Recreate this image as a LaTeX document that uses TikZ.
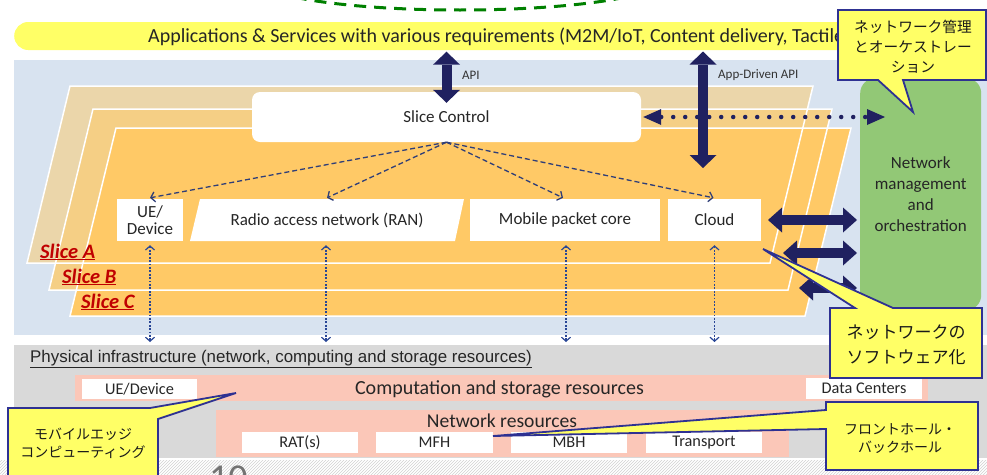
\documentclass[tikz,border=0pt]{standalone}
\usepackage{fontspec}
\setmainfont{Carlito}
\newfontfamily\arialfont{Liberation Sans}
\newfontfamily\jpfont{Noto Sans CJK JP}
\usetikzlibrary{arrows.meta,calc,patterns}

\definecolor{appyellow}{RGB}{255,255,102}
\definecolor{panelblue}{RGB}{216,227,240}
\definecolor{sliceA}{RGB}{235,214,170}
\definecolor{sliceB}{RGB}{245,207,133}
\definecolor{sliceC}{RGB}{255,201,102}
\definecolor{navy}{RGB}{32,33,96}
\definecolor{linkblue}{RGB}{47,62,120}
\definecolor{maplink}{RGB}{40,70,150}
\definecolor{mgmtgreen}{RGB}{146,200,118}
\definecolor{physgray}{RGB}{217,217,217}
\definecolor{respink}{RGB}{251,199,184}
\definecolor{calloutedge}{RGB}{46,49,146}
\definecolor{slicered}{RGB}{192,0,0}
\definecolor{dashgreen}{RGB}{0,128,0}

\newcommand\fsz[2]{\fontsize{#1}{#2}\selectfont}

\begin{document}
\begin{tikzpicture}[x=1pt,y=-1pt,
  lbl/.style={inner sep=0pt, align=center, text=black!85, font=\fsz{17}{20.7}},
  whitebox/.style={fill=white, inner sep=0pt, text=black!85, font=\fsz{17}{16.5}, align=center},
  resbox/.style={fill=white, inner sep=0pt, text=black!85, font=\fsz{16.3}{16}},
  slicelbl/.style={inner sep=0pt, anchor=west, text=slicered, font=\fsz{20.5}{22}\bfseries\itshape},
  ctrl/.style={draw=linkblue, line width=1.3pt, dash pattern=on 5pt off 3pt, -{Straight Barb[length=4pt,width=10pt]}},
  vlink/.style={draw=maplink, line width=1.2pt, dash pattern=on 1.8pt off 1.6pt,
    {Straight Barb[length=4pt,width=9pt]}-{Straight Barb[length=4pt,width=9pt]}},
  vbig/.style={draw=navy, line width=10pt,
    {Triangle[width=27pt,length=13pt,line width=0pt]}-{Triangle[width=27pt,length=13pt,line width=0pt]}},
  hbig/.style={draw=navy, line width=10pt,
    {Triangle[width=25pt,length=14pt,line width=0pt]}-{Triangle[width=25pt,length=14pt,line width=0pt]}},
  dotarrow/.style={draw=navy, line width=4.5pt, line cap=round, dash pattern=on 0pt off 12pt,
    {Triangle[width=16pt,length=18pt,line width=0pt]}-{Triangle[width=16pt,length=18pt,line width=0pt]}},
  callout/.style={fill=appyellow, draw=calloutedge, line width=1.8pt, line join=miter},
  jp/.style={inner sep=0pt, align=center, text=black!90}
]
\clip (0,0) rectangle (987,474);
\fill[white] (0,0) rectangle (987,474);

% dashed outline continuing from above
\draw[dashgreen, line width=3pt, dash pattern=on 12pt off 8pt] (460,-19.5) ellipse [x radius=200, y radius=29.5];

% application layer bar
\node[fill=appyellow, rounded corners=14pt, minimum width=886pt, minimum height=28pt, inner sep=0pt, anchor=west] (apps) at (14,36) {};
\node[anchor=west, inner sep=0pt, text=black!85, font=\fsz{20}{20}] (appstext) at (148,36.5)
  {Applications \& Services with various requirements (M2M/IoT, Content delivery, Tactile Internet)};

% virtualised network panel
\node[fill=panelblue, minimum width=973pt, minimum height=275pt, inner sep=0pt, anchor=north west] (vpanel) at (14,60) {};

% slices
\fill[sliceA] (27,263) -- (70,86) -- (813,86) -- (770,263) -- cycle;
\fill[sliceB] (49,290) -- (93,109) -- (832,109) -- (788,290) -- cycle;
\fill[sliceC] (70,316) -- (116,128) -- (851,128) -- (805,316) -- cycle;
\begin{scope}[draw=white, line width=1.5pt]
  \draw (27,263) -- (70,86) -- (813,86) -- (770,263) -- cycle;
  \draw (49,290) -- (93,109) -- (832,109) -- (788,290) -- cycle;
  \draw (70,316) -- (116,128) -- (851,128) -- (805,316) -- cycle;
\end{scope}
\node[slicelbl] (slA) at (40,252) {\underline{Slice A}};
\node[slicelbl] (slB) at (62,277) {\underline{Slice B}};
\node[slicelbl] (slC) at (81,302) {\underline{Slice C}};

% management and orchestration
\node[fill=mgmtgreen, rounded corners=15pt, minimum width=121pt, minimum height=232pt, inner sep=0pt,
  anchor=north west, lbl] (mgmt) at (860,78) {Network\\management\\and\\orchestration};

% slice control and slice functions
\node[fill=white, rounded corners=8pt, minimum width=389pt, minimum height=50pt, inner sep=0pt, lbl] (sc) at (446.5,117) {Slice Control};
\node[whitebox, minimum width=66pt, minimum height=42pt] (ue) at (150,220) {UE/\\Device};
\fill[white] (190,241) -- (200,199) -- (464,199) -- (455,241) -- cycle;
\node[lbl, minimum width=255pt, minimum height=42pt] (ran) at (327,220) {Radio access network (RAN)};
\node[whitebox, minimum width=190pt, minimum height=42pt] (mpc) at (565,220) {Mobile packet core};
\node[whitebox, minimum width=93pt, minimum height=42pt] (cloud) at (714.5,220) {Cloud};

% control links
\draw[ctrl] (sc.south) -- ($(ue.north)+(0,-1)$);
\draw[ctrl] (sc.south) -- ($(ran.north)+(0,-1)$);
\draw[ctrl] (sc.south) -- ($(mpc.north)+(-2,-1)$);
\draw[ctrl] (sc.south) -- ($(cloud.north)+(-1,-1)$);

% physical infrastructure panel
\node[fill=physgray, minimum width=973pt, minimum height=113pt, inner sep=0pt, anchor=north west] (phys) at (14,345) {};

% mapping to the physical layer
\draw[vlink] ($(ue.south)+(0,4)$) -- ($(ue.south |- phys.north)+(0,-3)$);
\draw[vlink] ($(ran.south)+(-1,4)$) -- ($(ran.south |- phys.north)+(-1,-3)$);
\draw[vlink] ($(mpc.south)+(1,4)$) -- ($(mpc.south |- phys.north)+(1,-3)$);
\draw[vlink] ($(cloud.south)+(0,4)$) -- ($(cloud.south |- phys.north)+(0,-3)$);

% APIs
\draw[vbig] ($(apps.south -| sc.north)+(0,1.5)$) -- ($(sc.north)+(0,11)$);
\node[inner sep=0pt, text=black!80, font=\fsz{13}{14}, anchor=west] (apil) at (462,75) {API};
\coordinate (adtop) at (703,51.5);
\coordinate (adbot) at (703,168);
\draw[vbig] (adtop) -- (adbot);
\node[inner sep=0pt, text=black!80, font=\fsz{13}{14}, anchor=west] (adl) at (718,75) {App-Driven API};
\draw[dotarrow] ($(sc.east)+(2,0)$) -- ($(mgmt.west |- sc.east)+(25,0)$);

% slices to management
\coordinate (h1) at (768,220);
\coordinate (h2) at (783,253);
\coordinate (h3) at (799,288);
\draw[hbig] (h1) -- ($(mgmt.west |- h1)+(-3,0)$);
\draw[hbig] (h2) -- ($(mgmt.west |- h2)+(-3,0)$);
\draw[hbig] (h3) -- ($(mgmt.west |- h3)+(-3,0)$);

% physical resources
\node[anchor=west, inner sep=0pt, text=black!85, font=\arialfont\fsz{16.9}{18}] (physl) at (30,359)
  {\underline{Physical infrastructure (network, computing and storage resources)}};
\node[fill=respink, minimum width=853pt, minimum height=26pt, inner sep=0pt, anchor=north west] (comp) at (75,375) {};
\node[inner sep=0pt, text=black!85, font=\fsz{20}{20}] (compl) at (499.5,389.5) {Computation and storage resources};
\node[resbox, minimum width=115pt, minimum height=20pt] (ued) at (139.5,389) {UE/Device};
\node[resbox, minimum width=116pt, minimum height=21pt] (dc) at (864,388.5) {Data Centers};
\node[fill=respink, minimum width=573pt, minimum height=47pt, inner sep=0pt, anchor=north west] (netres) at (216,410) {};
\node[inner sep=0pt, text=black!85, font=\fsz{19.6}{20}] (netl) at (502,421) {Network resources};
\node[resbox, minimum width=116pt, minimum height=21pt] (rat) at (300,442.5) {RAT(s)};
\node[resbox, minimum width=117pt, minimum height=21pt] (mfh) at (434.5,442.5) {MFH};
\node[resbox, minimum width=116pt, minimum height=21pt] (mbh) at (569,442.5) {MBH};
\node[resbox, minimum width=116pt, minimum height=21pt] (trans) at (704,442.5) {Transport};

% page footer
\fill[pattern=north east lines, pattern color=black!18] (0,460) rectangle (987,474);
\node[anchor=north west, inner sep=0pt, text=black!55, font=\fsz{38}{38}] (pgno) at (209,466) {10};

% callouts
\draw[callout] (838,10) -- (986,10) -- (986,80) -- (903,80) -- (913,112) -- (878,80) -- (838,80) -- cycle;
\node[jp, font=\jpfont\fsz{14.7}{20}] (cnm) at (913,47) {ネットワーク管理\\とオーケストレー\\ション};

\draw[callout] (830,308) -- (855,308) -- (763,249) -- (893,308) -- (982,308) -- (982,378) -- (830,378) -- cycle;
\node[jp, font=\jpfont\fsz{17}{25}] (csw) at (906,345) {ネットワークの\\ソフトウェア化};

\draw[callout] (8,408) -- (150,408) -- (236,393) -- (158,419) -- (158,485) -- (8,485) -- cycle;
\node[jp, font=\jpfont\fsz{14}{18}] (cmec) at (83,443) {モバイルエッジ\\コンピューティング};

\draw[callout] (826,402) -- (978,402) -- (978,470) -- (826,470) -- (826,429) -- (493,436) -- (826,410) -- cycle;
\node[jp, font=\jpfont\fsz{14}{18}] (cfh) at (900,438.5) {フロントホール・\\バックホール};
\end{tikzpicture}
\end{document}
